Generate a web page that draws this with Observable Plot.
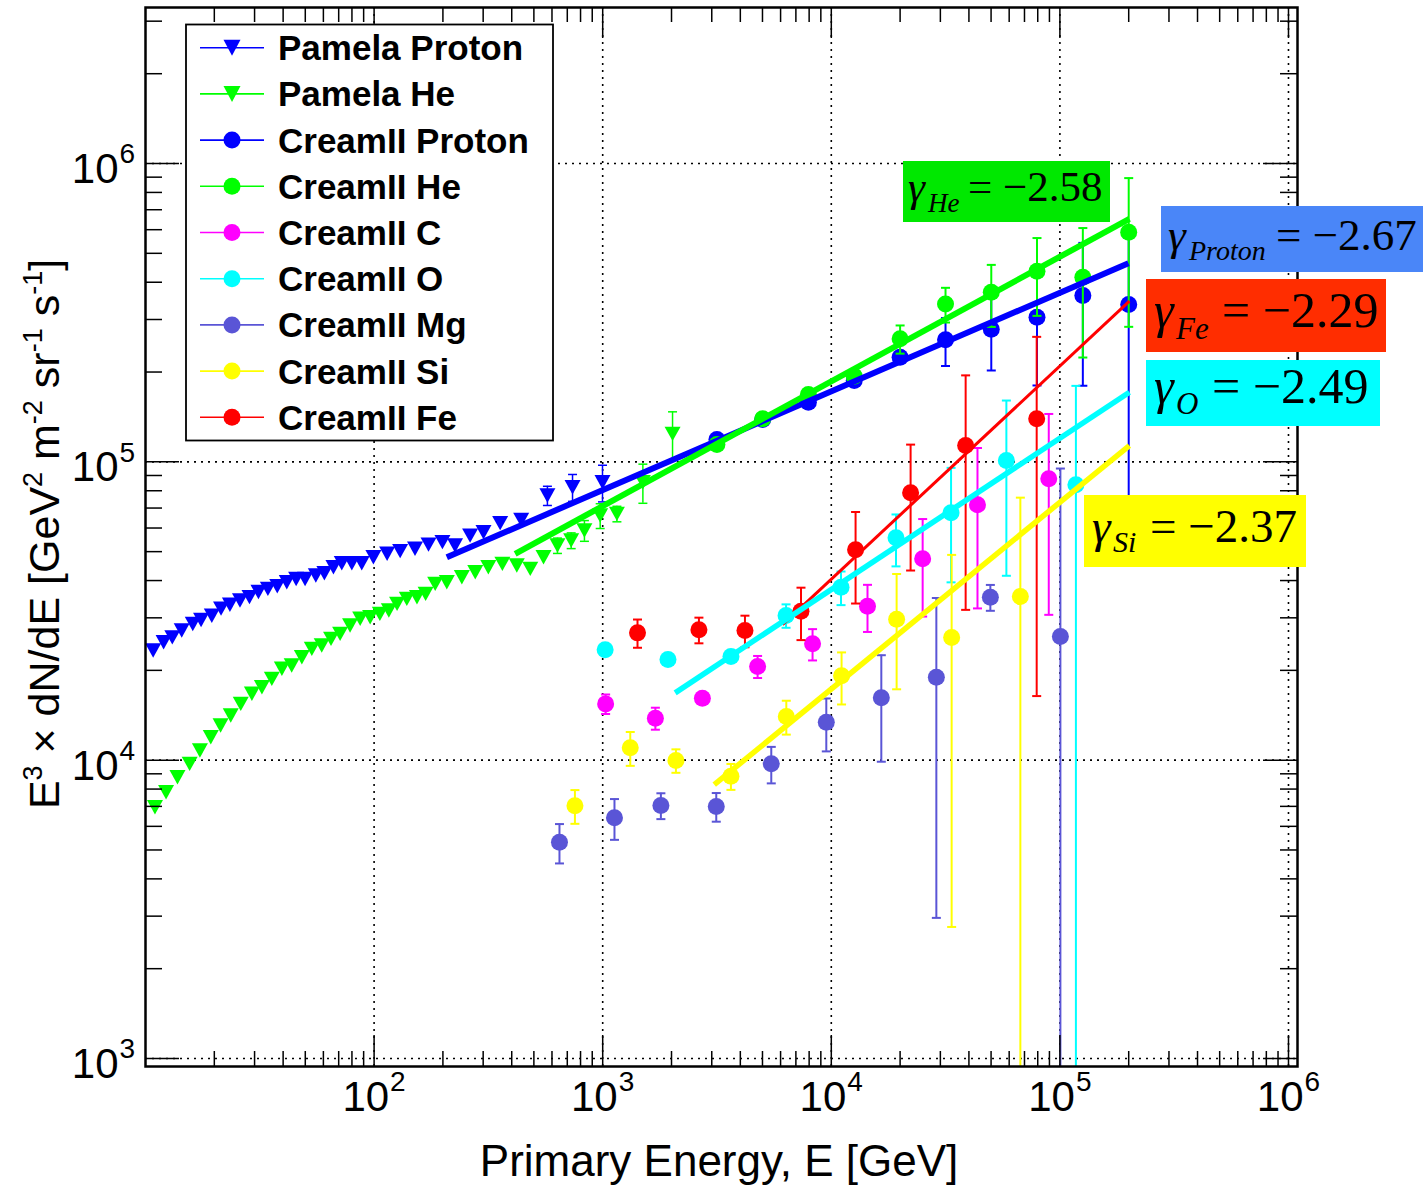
<!DOCTYPE html>
<html><head><meta charset="utf-8">
<script src="https://cdn.jsdelivr.net/npm/d3@7"></script>
<script src="https://cdn.jsdelivr.net/npm/@observablehq/plot@0.6"></script>
<style>
body{margin:0;background:#fff;}
#wrap{position:relative;width:1423px;height:1186px;overflow:hidden;background:#fff;}
#ann{position:absolute;left:0;top:0;}
</style></head><body>
<div id="wrap"><div id="chart"></div></div>
<script>
// ---------------- data ----------------
const pamelaProtonE = [10.8,12.0,13.1,14.4,16.1,17.5,19.5,21.4,23.4,25.9,28.5,31.2,34.3,37.7,41.5,45.6,49.9,55.6,60.6,66.4,72.2,79.9,88.3,99.3,114,130,151,173,199,226,263,301,356,440,573,738,998];
const pamelaProtonV = [23300,24850,25800,27200,28600,29500,30500,32200,33200,34300,35200,36600,37500,38300,39500,40500,40500,41600,42300,44300,45700,45700,45700,47900,49200,50200,51100,52800,53800,52400,56600,58100,62300,63900,77100,82200,85400];
const pamelaProtonErr = [0,0,0,0,0,0,0,0,0,0,0,0,0,0,0,0,0,0,0,0,0,0,0,0,0,0,0,0,0,0,0,0,0,0,5700,8500,12000];

const pamelaHeE = [11.0,12.3,13.8,15.6,17.3,19.3,21.3,23.6,26.1,29.2,32.3,35.7,39.5,43.6,48.3,53.4,59.0,64.8,71.0,78.5,86.9,96.1,106,116,126,139,154,168,185,208,242,277,316,364,421,482,551,634,728,832,975,1154,1499,2021];
const pamelaHeV = [6950,7810,8760,9720,10770,11930,13060,14110,15440,16690,17550,18730,20240,20760,22130,23610,24220,25500,26510,28270,29770,30130,30930,31730,33420,34730,35170,36100,38990,39490,41040,42650,44340,45510,44920,43780,47890,52410,54480,58850,66070,66940,85420,124100];
const pamelaHeErr = [0,0,0,0,0,0,0,0,0,0,0,0,0,0,0,0,0,0,0,0,0,0,0,0,0,0,0,0,0,0,0,0,0,0,0,0,0,3100,3300,4700,6300,4000,12800,23000];

const creamPHeE = [3160,5010,7940,12600,20000,31600,50100,79400,126000,200000];
const creamProtonV = [118800,138600,158400,187300,224200,256500,278400,305300,360900,336800];
const creamProtonErr = [2000,2500,3500,5000,10000,47000,76000,125000,181000,260000];
const creamHeV = [114300,139400,168100,193600,258500,338100,370300,435500,415700,588500];
const creamHeErr = [2000,2500,3500,6000,28000,45000,87000,127000,192000,305000];

const creamCE = [1030,1700,2730,4760,8280,14400,25100,43600,89400];
const creamCV = [15440,13820,16130,20600,24540,32800,47300,71760,87700];
const creamCErr = [1160,1170,650,1750,2950,5900,17000,39500,57000];

const creamOE = [1025,1930,3640,6340,11030,19190,33410,58330,117500];
const creamOV = [23430,21740,22250,30530,37990,55620,67450,101000,83730];
const creamOErr = [800,800,800,2750,4900,11000,28000,59500,96000];

const creamMgE = [647,1126,1797,3139,5463,9509,16550,28810,49640,100500];
const creamMgV = [5306,6406,7044,6989,9719,13400,16180,18960,35170,25960];
const creamMgErr = [800,1000,700,770,1360,2700,6300,16000,3500,69000];

const creamSiE = [756,1320,2091,3639,6356,11090,19310,33610,67150];
const creamSiV = [7028,11000,9970,8831,14000,19170,29680,25760,35350];
const creamSiErr = [910,1430,900,880,1820,3800,12400,23000,40500];

const creamFeE = [1420,2636,4191,7369,12770,22230,38700,79160];
const creamFeV = [26710,27340,27200,31560,50700,78720,113400,139400];
const creamFeErr = [2900,2700,3300,6300,17200,35500,81500,123000];

// power-law fit segments (end points)
const fitProtonE = [208,199500];   const fitProtonV = [47860,463300];
const fitHeE = [414,201400];       const fitHeV = [49160,652500];
const fitFeE = [6124,201400];      const fitFeV = [28480,345500];
const fitOE = [2075,201400];       const fitOV = [16810,171200];
const fitSiE = [3076,201400];      const fitSiV = [8280,113400];

const legendNames = ["Pamela Proton","Pamela He","CreamII Proton","CreamII He","CreamII C","CreamII O","CreamII Mg","CreamII Si","CreamII Fe"];
const seriesColors = ["#0000ff","#00ff00","#0000ff","#00ff00","#ff00ff","#00ffff","#5a55d6","#ffff00","#ff0000"];

const xTickValues = [1e2,1e3,1e4,1e5,1e6];
const xTickExponents = ["2","3","4","5","6"];
const yTickValues = [1e3,1e4,1e5,1e6];
const yTickExponents = ["3","4","5","6"];

const gammaLabels = [
  {sub:"He", val:"= \u22122.58", bg:"#00e800"},
  {sub:"Proton", val:"= \u22122.67", bg:"#4a86f8"},
  {sub:"Fe", val:"= \u22122.29", bg:"#ff2d00"},
  {sub:"O", val:"= \u22122.49", bg:"#00ffff"},
  {sub:"Si", val:"= \u22122.37", bg:"#ffff00"}
];
// ---------------------------------------------------------------

function rows(E, V, Err) { return E.map((e, i) => ({E: e, v: V[i], err: Err ? Err[i] : 0})); }

const triDown = {draw(ctx, size) { const r = Math.sqrt(size / Math.PI); ctx.moveTo(-r, -0.9 * r); ctx.lineTo(r, -0.9 * r); ctx.lineTo(0, 0.9 * r); ctx.closePath(); }};
const capSym = {draw(ctx, size) { const r = Math.sqrt(size / Math.PI); ctx.moveTo(-r, 0); ctx.lineTo(r, 0); }};

const series = [
  {kind: "tri", data: rows(pamelaProtonE, pamelaProtonV, pamelaProtonErr), color: seriesColors[0], bw: 1.5},
  {kind: "tri", data: rows(pamelaHeE, pamelaHeV, pamelaHeErr), color: seriesColors[1], bw: 1.5},
  {kind: "dot", data: rows(creamPHeE, creamProtonV, creamProtonErr), color: seriesColors[2], bw: 2},
  {kind: "dot", data: rows(creamPHeE, creamHeV, creamHeErr), color: seriesColors[3], bw: 2},
  {kind: "dot", data: rows(creamCE, creamCV, creamCErr), color: seriesColors[4], bw: 2},
  {kind: "dot", data: rows(creamOE, creamOV, creamOErr), color: seriesColors[5], bw: 2},
  {kind: "dot", data: rows(creamMgE, creamMgV, creamMgErr), color: seriesColors[6], bw: 2},
  {kind: "dot", data: rows(creamSiE, creamSiV, creamSiErr), color: seriesColors[7], bw: 2},
  {kind: "dot", data: rows(creamFeE, creamFeV, creamFeErr), color: seriesColors[8], bw: 2}
];
const fits = [
  {E: fitProtonE, V: fitProtonV, color: "#0000ff", w: 6},
  {E: fitHeE, V: fitHeV, color: "#00ff00", w: 6},
  {E: fitFeE, V: fitFeV, color: "#ff0000", w: 3},
  {E: fitOE, V: fitOV, color: "#00ffff", w: 5.5},
  {E: fitSiE, V: fitSiV, color: "#ffff00", w: 5.5}
];

const XDOM = [10, 1.095e6], YDOM = [940, 3.334e6];
const W = 1152, H = 1059;
const xMinor = [], yMinor = [];
for (const d of [10, 100, 1e3, 1e4, 1e5]) for (let k = 2; k <= 9; k++) xMinor.push(k * d);
for (const d of [100, 1e3, 1e4, 1e5, 1e6]) for (let k = 2; k <= 9; k++) { const v = k * d; if (v > YDOM[0] && v < YDOM[1]) yMinor.push(v); }
const xLabels = xTickValues.map((v, i) => ({v, exp: xTickExponents[i]}));
const yLabels = yTickValues.map((v, i) => ({v, exp: yTickExponents[i]}));

const marks = [];
// grid
marks.push(Plot.ruleX(xTickValues, {x: d => d, stroke: "black", strokeWidth: 1.6, strokeDasharray: "2,5"}));
marks.push(Plot.ruleY(yTickValues, {y: d => d, stroke: "black", strokeWidth: 1.6, strokeDasharray: "2,5"}));
// data
for (const s of series) {
  const ed = s.data.filter(d => d.err > 0).map(d => ({E: d.E, hi: d.v + d.err, lo: d.v - d.err > 0 ? d.v - d.err : 1}));
  marks.push(Plot.ruleX(ed, {x: "E", y1: "lo", y2: "hi", stroke: s.color, strokeWidth: s.bw, clip: true}));
  marks.push(Plot.dot(ed, {x: "E", y: "hi", symbol: capSym, r: 4.5, stroke: s.color, strokeWidth: s.bw, fill: "none", clip: true}));
  marks.push(Plot.dot(ed.filter(d => d.lo > YDOM[0]), {x: "E", y: "lo", symbol: capSym, r: 4.5, stroke: s.color, strokeWidth: s.bw, fill: "none", clip: true}));
  if (s.kind === "tri") marks.push(Plot.dot(s.data, {x: "E", y: "v", symbol: triDown, r: 8, fill: s.color, stroke: "none"}));
  else marks.push(Plot.dot(s.data, {x: "E", y: "v", r: 8.5, fill: s.color, stroke: "none"}));
}
for (const f of fits) marks.push(Plot.line(rows(f.E, f.V), {x: "E", y: "v", stroke: f.color, strokeWidth: f.w, strokeLinecap: "butt"}));
// ticks (inside, all four sides)
const tk = {stroke: "black", strokeWidth: 1.5};
marks.push(Plot.tickX(xMinor, {x: d => d, insetTop: H - 15, ...tk}));
marks.push(Plot.tickX(xMinor, {x: d => d, insetBottom: H - 15, ...tk}));
marks.push(Plot.tickX(xTickValues, {x: d => d, insetTop: H - 31, ...tk}));
marks.push(Plot.tickX(xTickValues, {x: d => d, insetBottom: H - 31, ...tk}));
marks.push(Plot.tickY(yMinor, {y: d => d, insetRight: W - 17, ...tk}));
marks.push(Plot.tickY(yMinor, {y: d => d, insetLeft: W - 17, ...tk}));
marks.push(Plot.tickY(yTickValues, {y: d => d, insetRight: W - 34, ...tk}));
marks.push(Plot.tickY(yTickValues, {y: d => d, insetLeft: W - 34, ...tk}));
marks.push(Plot.frame({stroke: "black", strokeWidth: 2.5}));
// tick labels
marks.push(Plot.text(xLabels, {x: "v", text: () => "10", frameAnchor: "bottom", textAnchor: "end", dx: 15, dy: 44, fontSize: 42, fill: "black"}));
marks.push(Plot.text(xLabels, {x: "v", text: "exp", frameAnchor: "bottom", textAnchor: "start", dx: 16, dy: 24, fontSize: 28, fill: "black"}));
marks.push(Plot.text(yLabels, {y: "v", text: () => "10", frameAnchor: "left", textAnchor: "end", dx: -27, dy: 6, fontSize: 42, fill: "black"}));
marks.push(Plot.text(yLabels, {y: "v", text: "exp", frameAnchor: "left", textAnchor: "start", dx: -26, dy: -9, fontSize: 28, fill: "black"}));

const chart = Plot.plot({
  width: 1423, height: 1186,
  marginLeft: 145, marginRight: 126, marginTop: 7, marginBottom: 120,
  x: {type: "log", domain: XDOM, axis: null},
  y: {type: "log", domain: YDOM, axis: null},
  style: {fontFamily: "'Liberation Sans', Arial, sans-serif", background: "white", overflow: "visible"},
  marks
});
document.getElementById("chart").appendChild(chart);

// ---------------- annotation layer: legend, fit labels, axis titles ----------------
const ann = d3.select("#wrap").append("svg").attr("id", "ann").attr("width", 1423).attr("height", 1186)
  .style("font-family", "'Liberation Sans', Arial, sans-serif");

// legend
const lg = ann.append("g");
lg.append("rect").attr("x", 186).attr("y", 24.5).attr("width", 367).attr("height", 416)
  .attr("fill", "white").attr("stroke", "black").attr("stroke-width", 1.8);
legendNames.forEach((name, i) => {
  const cy = 47.7 + i * 46.2, c = seriesColors[i];
  lg.append("line").attr("x1", 200).attr("x2", 264).attr("y1", cy).attr("y2", cy).attr("stroke", c).attr("stroke-width", 1.6);
  if (i < 2) lg.append("path").attr("d", `M${232 - 8.5},${cy - 8}L${232 + 8.5},${cy - 8}L232,${cy + 8}Z`).attr("fill", c);
  else lg.append("circle").attr("cx", 232).attr("cy", cy).attr("r", 8.5).attr("fill", c);
  lg.append("text").attr("x", 278).attr("y", cy + 12.5).attr("font-size", 35).attr("font-weight", "bold").text(name);
});

// gamma boxes
const boxGeom = [
  {x: 903, y: 161, w: 207, h: 61, fs: 43, sfs: 27, gx: 908, sx: 928, ex: 968, base: 201, sbase: 212},
  {x: 1161, y: 206, w: 262, h: 66, fs: 45, sfs: 28, gx: 1168, sx: 1189, ex: 1276, base: 250, sbase: 260},
  {x: 1146, y: 279, w: 240, h: 73, fs: 50, sfs: 31, gx: 1154, sx: 1176, ex: 1222, base: 327, sbase: 339},
  {x: 1146, y: 360, w: 234, h: 66, fs: 50, sfs: 31, gx: 1154, sx: 1176, ex: 1212, base: 403, sbase: 414},
  {x: 1084, y: 495, w: 222, h: 72, fs: 47, sfs: 30, gx: 1092, sx: 1113, ex: 1150, base: 542, sbase: 552}
];
gammaLabels.forEach((g, i) => {
  const b = boxGeom[i];
  const gg = ann.append("g").style("font-family", "'Liberation Serif', 'Times New Roman', serif");
  gg.append("rect").attr("x", b.x).attr("y", b.y).attr("width", b.w).attr("height", b.h).attr("fill", g.bg);
  gg.append("text").attr("x", b.gx).attr("y", b.base).attr("font-size", b.fs).attr("font-style", "italic").text("\u03b3");
  gg.append("text").attr("x", b.sx).attr("y", b.sbase).attr("font-size", b.sfs).attr("font-style", "italic").text(g.sub);
  gg.append("text").attr("x", b.ex).attr("y", b.base).attr("font-size", b.fs).text(g.val);
});

// axis titles
ann.append("text").attr("x", 719).attr("y", 1176).attr("text-anchor", "middle").attr("font-size", 44).text("Primary Energy, E [GeV]");
const yt = ann.append("text").attr("transform", "translate(59,534) rotate(-90)").attr("text-anchor", "middle").attr("font-size", 43);
const parts = [["E", 0], ["3", 1], [" \u00d7 dN/dE [GeV", 0], ["2", 1], [" m", 0], ["-2", 1], [" sr", 0], ["-1", 1], [" s", 0], ["-1", 1], ["]", 0]];
let up = false;
for (const [t, sup] of parts) {
  const ts = yt.append("tspan").text(t);
  if (sup && !up) { ts.attr("dy", -17).attr("font-size", 27); up = true; }
  else if (sup) { ts.attr("font-size", 27); }
  else if (up) { ts.attr("dy", 17); up = false; }
}
</script>
</body></html>
